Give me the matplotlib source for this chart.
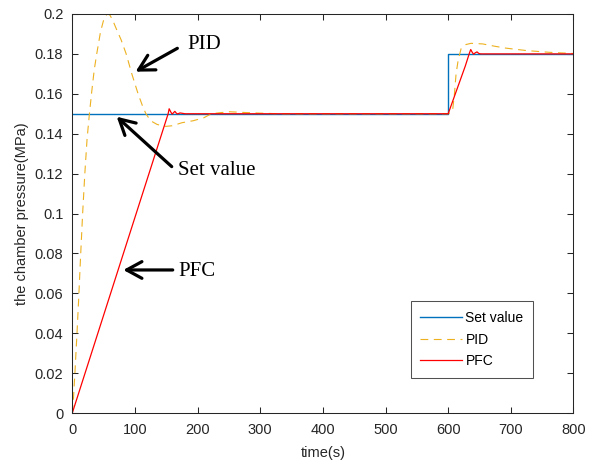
import matplotlib.pyplot as plt

plt.rcParams['font.family'] = ['Liberation Sans', 'DejaVu Sans']

# set value (step at 600 s)
t_set = [0, 600, 600, 800]
p_set = [0.15, 0.15, 0.18, 0.18]

# PID response
t_pid = [0, 2, 4.5, 7.5, 10, 13, 16.5, 20, 23.5, 27, 31, 35, 39, 45, 50, 53, 56, 60, 65, 71, 78, 86,
         95, 105, 112, 117.5, 125, 135, 145, 150, 160, 175, 193, 210, 222, 235, 251, 270, 300, 330, 400,
         600, 604, 607, 610, 612.6, 616, 620.5, 628.5, 636.5, 655, 675, 692, 724, 761, 800]
p_pid = [0, 0.008, 0.022, 0.04, 0.056, 0.077, 0.1, 0.12, 0.137, 0.149, 0.161, 0.172, 0.18, 0.191, 0.197,
         0.199, 0.2, 0.1995, 0.1965, 0.192, 0.187, 0.18,
         0.17, 0.16, 0.154, 0.15, 0.1465, 0.1447, 0.1438, 0.1437, 0.144, 0.1455, 0.1465, 0.148, 0.15, 0.1505,
         0.151, 0.1507, 0.1503, 0.15, 0.15,
         0.15, 0.1505, 0.1515, 0.16, 0.17, 0.177, 0.1825, 0.1847, 0.1853, 0.185, 0.1838, 0.1829, 0.1817,
         0.1808, 0.1802]

# PFC response
t_pfc = [0, 153, 154.6, 157, 159.4, 161.5, 163.7, 166, 168, 172, 180, 600, 627.4, 634, 636, 638,
         640.6, 643, 646, 649, 652, 800]
p_pfc = [0, 0.15, 0.1525, 0.151, 0.1498, 0.1505, 0.1512, 0.1503, 0.1499, 0.1504, 0.15, 0.15, 0.174,
         0.1805, 0.1822, 0.181, 0.1798, 0.1805, 0.181, 0.1802, 0.18, 0.18]

xticks = [0, 100, 200, 300, 400, 500, 600, 700, 800]
yticks = [0, 0.02, 0.04, 0.06, 0.08, 0.1, 0.12, 0.14, 0.16, 0.18, 0.2]
yticklabels = ['0', '0.02', '0.04', '0.06', '0.08', '0.1', '0.12', '0.14', '0.16', '0.18', '0.2']

fig = plt.figure(figsize=(5.97, 4.65), dpi=100)
ax = fig.add_axes([0.1211, 0.1118, 0.8395, 0.8581])

ax.plot(t_set, p_set, color='#0072BD', lw=1.0, label='Set value')
ax.plot(t_pid, p_pid, color='#EDB120', lw=0.8, linestyle=(0, (7, 5)), label='PID')
ax.plot(t_pfc, p_pfc, color='#FF0000', lw=0.9, label='PFC')

ax.set_xlim(0, 800)
ax.set_ylim(0, 0.2)
ax.set_xticks(xticks)
ax.set_yticks(yticks)
ax.set_yticklabels(yticklabels)
ax.tick_params(direction='in', top=True, right=True, length=4, width=0.75,
               labelsize=10.5, colors='#262626')
ax.tick_params(axis='x', pad=7)
ax.tick_params(axis='y', pad=6.5)
for s in ax.spines.values():
    s.set_color('#262626')
    s.set_linewidth(0.75)
ax.set_xlabel('time(s)', fontsize=10.5, color='#262626', labelpad=7)
ax.set_ylabel('the chamber pressure(MPa)', fontsize=10.5, color='#262626', labelpad=4)

leg = ax.legend(loc='lower left', bbox_to_anchor=(0.675, 0.088), fontsize=10, frameon=True,
                fancybox=False, edgecolor='#262626', handlelength=3.0, handletextpad=0.25,
                borderpad=0.7, labelspacing=0.55, borderaxespad=0)
leg.get_frame().set_linewidth(0.75)

serif = ['Liberation Serif', 'DejaVu Serif']
arrow = dict(arrowstyle='->, head_length=1.1, head_width=0.6', color='black', lw=2.3,
             shrinkA=0, shrinkB=0)
ax.text(183, 0.1848, 'PID', family=serif, fontsize=15, va='center', ha='left')
ax.annotate('', xy=(101, 0.1711), xytext=(167.7, 0.1828), arrowprops=arrow)
ax.text(168.8, 0.1218, 'Set value', family=serif, fontsize=15, va='center', ha='left')
ax.annotate('', xy=(70.9, 0.1485), xytext=(158.7, 0.1235), arrowprops=arrow)
ax.text(168.8, 0.0708, 'PFC', family=serif, fontsize=15, va='center', ha='left')
ax.annotate('', xy=(81.4, 0.0717), xytext=(160.3, 0.0717), arrowprops=arrow)

fig.savefig('out.png', dpi=100)
